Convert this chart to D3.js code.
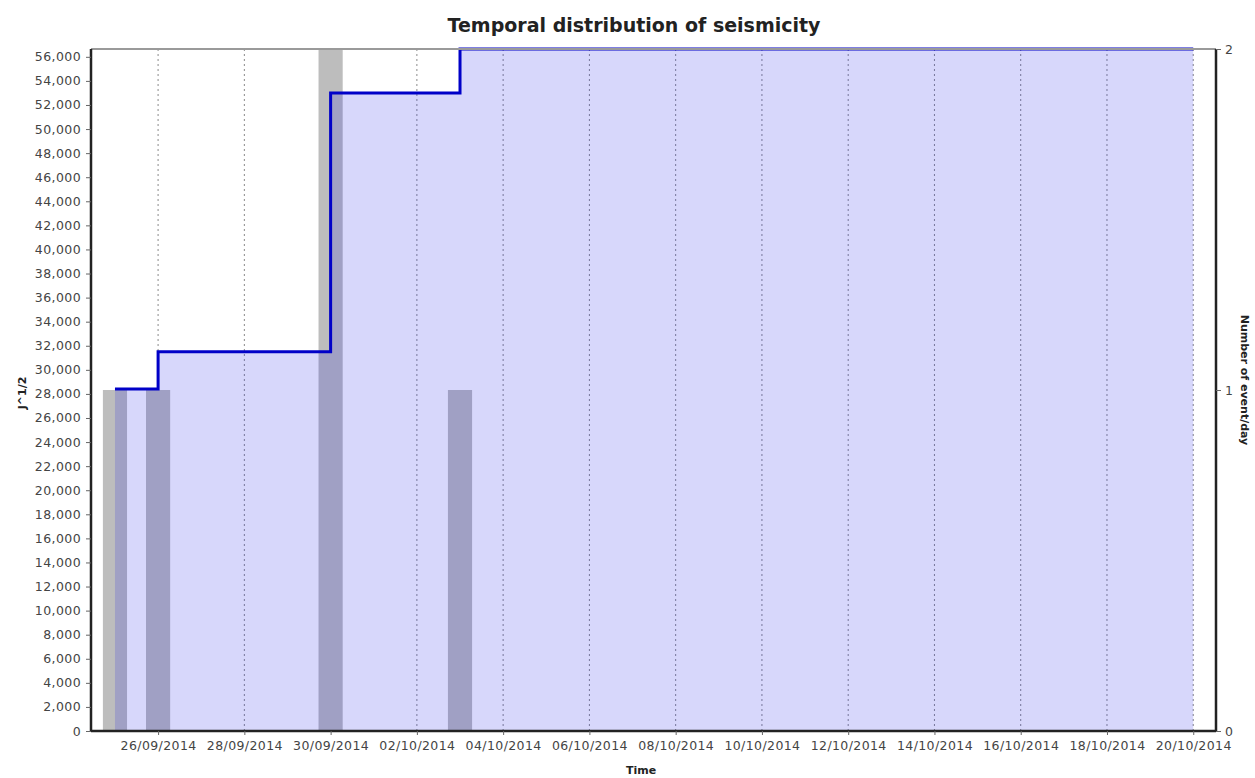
<html>
    <head>
        <script src="https://d3js.org/d3.v7.min.js"></script>
    </head>
    <body style="margin:0;background:#fff">
        <script>
            // data
            var eventDays = ["2014-09-25", "2014-09-26", "2014-09-30", "2014-10-03"];
            var eventCounts = [1, 1, 2, 1];
            var stepDates = ["2014-09-25", "2014-09-26", "2014-09-30", "2014-10-03", "2014-10-20"];
            var stepValues = [28400, 31500, 53000, 56650, 56650];
            var yTicks = d3.range(0, 56001, 2000);
            var xTickDates = ["2014-09-26", "2014-09-28", "2014-09-30", "2014-10-02", "2014-10-04", "2014-10-06",
                "2014-10-08", "2014-10-10", "2014-10-12", "2014-10-14", "2014-10-16", "2014-10-18", "2014-10-20"];
            var countTicks = [0, 1, 2];

            var parse = d3.timeParse("%Y-%m-%d");
            var margin = {top: 49, right: 39, bottom: 47, left: 91},
                width = 1255 - margin.left - margin.right,
                height = 778 - margin.top - margin.bottom;

            var svg = d3.select("body")
            .append("svg")
                .attr("width", 1255)
                .attr("height", 778)
                .style("font-family", "'DejaVu Sans', sans-serif")
            .append("g")
                .attr("transform", "translate(" + margin.left + "," + margin.top + ")");

            var x = d3.scaleTime()
                .domain([new Date(2014, 8, 24, 10, 40), new Date(2014, 9, 20, 12, 40)])
                .range([0, width]);
            var y = d3.scaleLinear()
                .domain([0, 56650])
                .range([height, 0]);
            var yCount = d3.scaleLinear()
                .domain([0, 2])
                .range([height, 0]);

            // vertical dotted grid
            svg.append("g")
                .selectAll("line")
                .data(xTickDates.map(parse))
                .enter()
                .append("line")
                .attr("x1", function(d) { return x(d); })
                .attr("x2", function(d) { return x(d); })
                .attr("y1", 0)
                .attr("y2", height)
                .attr("stroke", "#8a8a8a")
                .attr("stroke-width", 1)
                .attr("stroke-dasharray", "2,3");

            // events per day (bars)
            var barW = x(parse("2014-09-26")) - x(parse("2014-09-25"));
            svg.append("g")
                .selectAll("rect")
                .data(eventDays.map(function(d, i) { return {date: parse(d), n: eventCounts[i]}; }))
                .enter()
                .append("rect")
                .attr("x", function(d) { return x(d.date) - barW * 0.28; })
                .attr("width", barW * 0.56)
                .attr("y", function(d) { return yCount(d.n); })
                .attr("height", function(d) { return height - yCount(d.n); })
                .style("fill", "#bdbdbd");

            // cumulative sqrt energy
            var steps = stepDates.map(function(d, i) { return {date: parse(d), v: stepValues[i]}; });
            var area = d3.area()
                .curve(d3.curveStepAfter)
                .x(function(d) { return x(d.date); })
                .y0(height)
                .y1(function(d) { return y(d.v); });
            svg.append("path")
                .datum(steps)
                .attr("d", area)
                .style("fill", "#1a1aeb")
                .style("opacity", 0.175);

            var line = d3.line()
                .curve(d3.curveStepAfter)
                .x(function(d) { return x(d.date); })
                .y(function(d) { return y(d.v); });
            svg.append("path")
                .datum(steps)
                .attr("d", line)
                .attr("fill", "none")
                .attr("stroke", "#0000c8")
                .attr("stroke-width", 3);

            // frame
            svg.append("line").attr("x1", 0).attr("x2", width).attr("y1", 0).attr("y2", 0)
                .attr("stroke", "#9a9a9a").attr("stroke-width", 2);

            // left axis
            var yAxis = svg.append("g")
                .call(d3.axisLeft(y).tickValues(yTicks).tickSize(5).tickPadding(5).tickFormat(d3.format(",")));
            // bottom axis
            var xAxis = svg.append("g")
                .attr("transform", "translate(0," + height + ")")
                .call(d3.axisBottom(x).tickValues(xTickDates.map(parse)).tickSize(4).tickPadding(6)
                    .tickFormat(d3.timeFormat("%d/%m/%Y")));
            // right axis
            var rAxis = svg.append("g")
                .attr("transform", "translate(" + width + ",0)")
                .call(d3.axisRight(yCount).tickValues(countTicks).tickSize(5).tickPadding(4).tickFormat(d3.format("d")));

            [yAxis, xAxis, rAxis].forEach(function(a) {
                a.select(".domain").attr("stroke", "#222").attr("stroke-width", 2.5);
                a.selectAll(".tick line").attr("stroke", "#666");
                a.selectAll("text").style("font-size", "12.5px").style("letter-spacing", "0.4px")
                    .attr("fill", "#444").style("font-family", "'DejaVu Sans', sans-serif");
            });
            rAxis.select(".domain").attr("d", "M0,0V" + height);
            yAxis.select(".domain").attr("d", "M0,0V" + height);
            xAxis.select(".domain").attr("d", "M0,0H" + width);

            // title
            svg.append("text")
                .attr("text-anchor", "middle")
                .attr("x", 634 - margin.left)
                .attr("y", -17)
                .style("font-size", "19px")
                .style("font-weight", "bold")
                .attr("fill", "#222")
                .text("Temporal distribution of seismicity");

            // X axis label
            svg.append("text")
                .attr("text-anchor", "middle")
                .attr("x", 641 - margin.left)
                .attr("y", height + 43)
                .style("font-size", "11px")
                .style("font-weight", "bold")
                .attr("fill", "#222")
                .text("Time");

            // Y axis labels
            svg.append("text")
                .attr("text-anchor", "middle")
                .attr("transform", "translate(" + (-65) + "," + (393 - margin.top) + ") rotate(-90)")
                .style("font-size", "11px")
                .style("font-weight", "bold")
                .attr("fill", "#222")
                .text("J^1/2");

            svg.append("text")
                .attr("text-anchor", "middle")
                .attr("transform", "translate(" + (width + 25) + "," + (380 - margin.top) + ") rotate(90)")
                .style("font-size", "11px")
                .style("font-weight", "bold")
                .attr("fill", "#222")
                .text("Number of event/day");
        </script>
    </body>
</html>
